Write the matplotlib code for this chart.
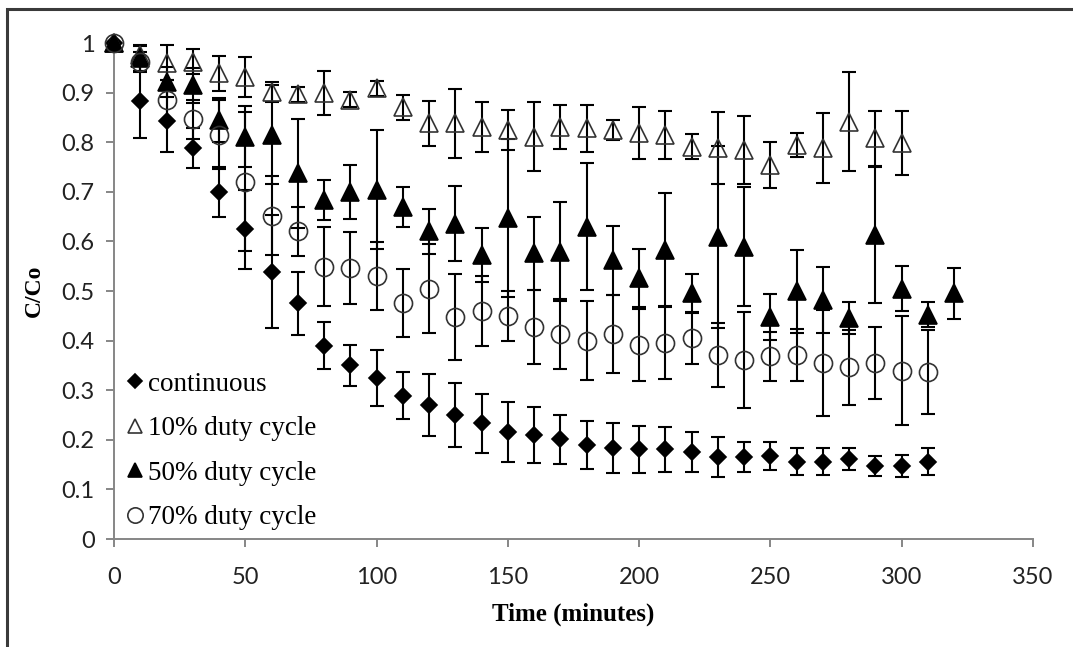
import matplotlib
matplotlib.use('Agg')
import matplotlib.pyplot as plt
from matplotlib.patches import Rectangle

# ── Datos: C/Co frente al tiempo de tratamiento ──────────────────────────────

t_cont = [0, 10, 20, 30, 40, 50, 60, 70, 80, 90, 100, 110, 120, 130, 140, 150,
          160, 170, 180, 190, 200, 210, 220, 230, 240, 250, 260, 270, 280, 290,
          300, 310]
c_cont = [1.0, 0.883, 0.843, 0.788, 0.700, 0.624, 0.539, 0.475, 0.390, 0.350,
          0.325, 0.289, 0.270, 0.250, 0.233, 0.216, 0.210, 0.201, 0.190, 0.184,
          0.181, 0.181, 0.176, 0.165, 0.165, 0.167, 0.156, 0.156, 0.161, 0.147,
          0.147, 0.156]
e_cont = [0.0, 0.074, 0.062, 0.040, 0.050, 0.080, 0.114, 0.063, 0.047, 0.042,
          0.056, 0.048, 0.062, 0.064, 0.060, 0.060, 0.056, 0.050, 0.048, 0.050,
          0.047, 0.045, 0.040, 0.040, 0.030, 0.028, 0.027, 0.027, 0.022, 0.020,
          0.022, 0.027]

t_10 = [0, 10, 20, 30, 40, 50, 60, 70, 80, 90, 100, 110, 120, 130, 140, 150,
        160, 170, 180, 190, 200, 210, 220, 230, 240, 250, 260, 270, 280, 290,
        300]
c_10 = [1.0, 0.975, 0.960, 0.962, 0.939, 0.932, 0.902, 0.897, 0.899, 0.886,
        0.909, 0.870, 0.838, 0.838, 0.831, 0.825, 0.811, 0.831, 0.828, 0.825,
        0.818, 0.815, 0.791, 0.788, 0.784, 0.754, 0.794, 0.788, 0.841, 0.808,
        0.798]
e_10 = [0.0, 0.020, 0.035, 0.025, 0.035, 0.040, 0.020, 0.015, 0.045, 0.015,
        0.015, 0.025, 0.045, 0.070, 0.050, 0.040, 0.070, 0.045, 0.047, 0.020,
        0.052, 0.048, 0.025, 0.073, 0.068, 0.047, 0.024, 0.070, 0.100, 0.055,
        0.065]

t_50 = [0, 10, 20, 30, 40, 50, 60, 70, 80, 90, 100, 110, 120, 130, 140, 150,
        160, 170, 180, 190, 200, 210, 220, 230, 240, 250, 260, 270, 280, 290,
        300, 310, 320]
c_50 = [1.0, 0.969, 0.922, 0.915, 0.845, 0.811, 0.815, 0.737, 0.683, 0.700,
        0.704, 0.670, 0.620, 0.636, 0.573, 0.647, 0.576, 0.579, 0.630, 0.562,
        0.526, 0.583, 0.495, 0.609, 0.589, 0.448, 0.499, 0.482, 0.445, 0.613,
        0.505, 0.452, 0.495]
e_50 = [0.0, 0.025, 0.030, 0.035, 0.045, 0.062, 0.100, 0.110, 0.040, 0.055,
        0.120, 0.040, 0.045, 0.075, 0.055, 0.160, 0.073, 0.100, 0.128, 0.070,
        0.058, 0.115, 0.040, 0.184, 0.120, 0.046, 0.083, 0.067, 0.032, 0.138,
        0.045, 0.025, 0.052]

t_70 = [0, 10, 20, 30, 40, 50, 60, 70, 80, 90, 100, 110, 120, 130, 140, 150,
        160, 170, 180, 190, 200, 210, 220, 230, 240, 250, 260, 270, 280, 290,
        300, 310]
c_70 = [1.0, 0.962, 0.885, 0.846, 0.815, 0.720, 0.652, 0.620, 0.549, 0.546,
        0.530, 0.476, 0.505, 0.448, 0.460, 0.450, 0.428, 0.413, 0.400, 0.413,
        0.391, 0.396, 0.405, 0.371, 0.361, 0.368, 0.371, 0.355, 0.346, 0.355,
        0.339, 0.337]
e_70 = [0.0, 0.020, 0.040, 0.040, 0.070, 0.140, 0.080, 0.050, 0.080, 0.072,
        0.068, 0.068, 0.090, 0.087, 0.070, 0.050, 0.075, 0.070, 0.080, 0.078,
        0.073, 0.073, 0.052, 0.065, 0.096, 0.050, 0.052, 0.107, 0.075, 0.072,
        0.110, 0.085]

x_ticks = [0, 50, 100, 150, 200, 250, 300, 350]
y_ticks = [0, 0.1, 0.2, 0.3, 0.4, 0.5, 0.6, 0.7, 0.8, 0.9, 1]

# (tiempo, valor, error, marcador, tamaño, relleno, etiqueta)
series = [
    (t_cont, c_cont, e_cont, 'D', 8.0, 'black', 'continuous'),
    (t_10, c_10, e_10, '^', 12.5, 'none', '10% duty cycle'),
    (t_50, c_50, e_50, '^', 12.5, 'black', '50% duty cycle'),
    (t_70, c_70, e_70, 'o', 13.0, 'none', '70% duty cycle'),
]

AXIS_GRAY = '#868686'
SERIF = ['Liberation Serif', 'DejaVu Serif']
SANS = ['Lato', 'DejaVu Sans']

W, H = 1073, 647
fig = plt.figure(figsize=(W / 100, H / 100), dpi=100)
ax = fig.add_axes([114 / W, 1 - 539 / H, (1033 - 114) / W, (539 - 43) / H])

for t, c, e, mk, ms, fc, label in series:
    ax.errorbar(t, c, yerr=e, fmt='none', ecolor='black', elinewidth=1.5,
                capsize=5, capthick=1.5, clip_on=False, zorder=2)
for t, c, e, mk, ms, fc, label in series:
    ax.plot(t, c, linestyle='none', marker=mk, markersize=ms,
            markerfacecolor=fc, markeredgecolor='black' if fc != 'none' else '#333333',
            markeredgewidth=1.2, label=label, clip_on=False, zorder=3)

ax.set_xlim(0, 350)
ax.set_ylim(0, 1)
ax.set_xticks(x_ticks)
ax.set_yticks(y_ticks)
ax.set_xticklabels([str(v) for v in x_ticks])
ax.set_yticklabels(['0', '0.1', '0.2', '0.3', '0.4', '0.5', '0.6', '0.7',
                    '0.8', '0.9', '1'])

for side in ('top', 'right'):
    ax.spines[side].set_visible(False)
for side in ('left', 'bottom'):
    ax.spines[side].set_color(AXIS_GRAY)
    ax.spines[side].set_linewidth(1.4)
ax.tick_params(axis='both', direction='out', length=6, width=1.4,
               color=AXIS_GRAY, labelsize=17, labelcolor='#222222')
ax.tick_params(axis='x', pad=14)
ax.tick_params(axis='y', pad=8)
for lbl in ax.get_xticklabels() + ax.get_yticklabels():
    lbl.set_family(SANS)

ax.set_xlabel('Time (minutes)', fontsize=18, fontweight='bold',
              family=SERIF, labelpad=11)
ax.set_ylabel('C/Co', fontsize=17, fontweight='bold', family=SERIF,
              labelpad=12)

leg = ax.legend(loc='lower left', bbox_to_anchor=(0.004, 0.0), frameon=False,
                prop={'family': SERIF, 'size': 19.5}, handlelength=0.6,
                handletextpad=0.2, labelspacing=0.72, borderaxespad=0.05,
                borderpad=0.28, markerscale=0.85)

# Marco exterior del gráfico
fig.patches.append(Rectangle((7 / W, -0.5), 2.0, 1 - 9 / H + 0.5,
                             transform=fig.transFigure, fill=False,
                             edgecolor='#3a3a3a', linewidth=2.2))

fig.savefig('out.png', dpi=100, facecolor='white')
